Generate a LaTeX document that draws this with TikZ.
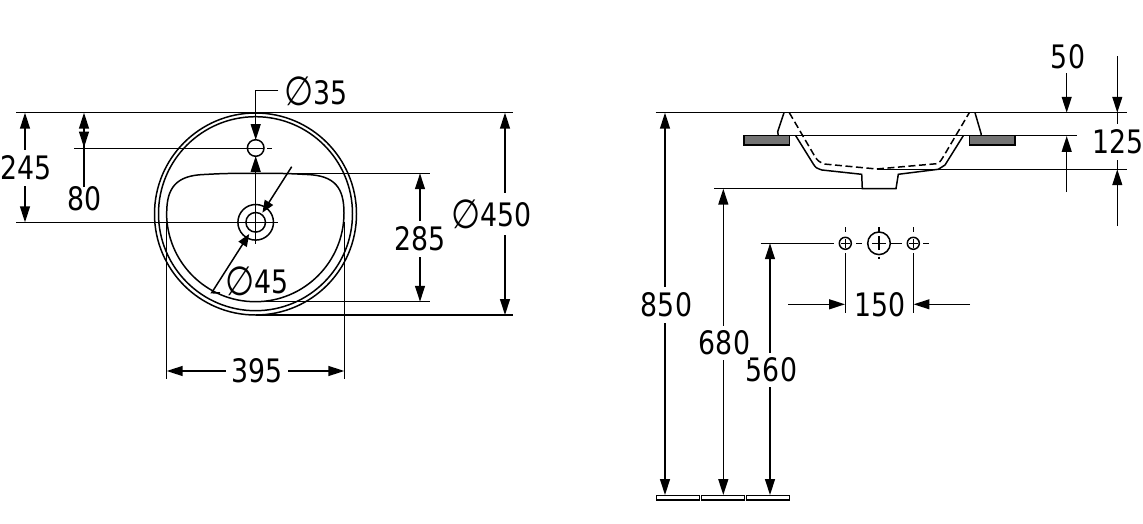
\documentclass[tikz,border=0pt]{standalone}
\usepackage{fontspec}
\setmainfont[FakeStretch=0.92]{DejaVu Sans Condensed}
\usetikzlibrary{arrows.meta}
\newcommand{\dia}{\raisebox{-0.7pt}{\scalebox{1.25}{∅}}}
\tikzset{
  dimtext/.style={font=\fontsize{18.4}{20}\selectfont,inner sep=0pt},
  dimlabel/.style={dimtext,fill=white,inner xsep=3pt,inner ysep=3.5pt},
  shortarrow/.style={>={Triangle[length=7pt,width=5.5pt]}}
}
\begin{document}
\begin{tikzpicture}[>={Triangle[length=9pt,width=5.6pt]},x=0.02cm,y=-0.02cm,line width=0.85pt]
\useasboundingbox (0,0) rectangle (1143,524);
% top view
\draw (255.5,214) circle[radius=101];
\draw (255.5,213.7) circle[radius=97];
\draw (166.7,213) .. controls (166.7,188) and (176,175.5) .. (204,174.5)
  .. controls (225,173.4) .. (255.5,173.3) .. controls (286,173.4) .. (307,174.5)
  .. controls (335,175.5) and (344,188) .. (344,213)
  arc[start angle=0,end angle=180,radius=88.7];
\draw (255.7,222.3) circle[radius=17.8];
\draw (255.7,222.3) circle[radius=9.8];
\draw (255.7,148) circle[radius=8.3];
\draw (16,112.7) -- (513,112.7);
\draw (255.5,315) -- (513,315);
\draw (255.5,173.3) -- (430,173.3);
\draw (255.5,301.7) -- (430,301.7);
\draw (16,222.3) -- (278,222.3);
\draw (74,148.3) -- (263,148.3);
\draw (267.3,148.3) -- (272,148.3);
\draw (255.7,222.3) -- (255.7,244);
\draw (166.7,222) -- (166.7,379);
\draw (344.3,222) -- (344.3,379);
% top view dimensions
\draw[->] (278.3,90.7) -- (255.7,90.7) -- (255.7,140);
\draw[->] (255.7,222.3) -- (255.7,156);
\draw[->,shortarrow] (291.7,166.7) -- (262.4,212.7);
\draw[->,shortarrow] (220,293) -- (211.7,292.7) -- (249.2,234);
\draw[<->] (25,112.7) -- (25,222.3);
\draw[->] (84,187) -- (84,112.7);
\draw[->] (84,131) -- (84,147.5);
\draw[<->] (420,173.3) -- (420,301.7);
\draw[<->] (505,112.7) -- (505,315);
\draw[<->] (166.7,371) -- (344.3,371);
\node[dimlabel] (lab245) at (26,168) {245};
\node[dimtext] (lab80) at (84.5,199) {80};
\node[dimlabel] (lab285) at (420.5,239) {285};
\node[dimlabel] (lab450) at (491.5,214) {\dia450};
\node[dimlabel] (lab395) at (257,371) {395};
\node[dimtext] (lab35) at (316,91.7) {\dia35};
\node[dimtext] (lab45) at (257,281) {\dia45};
% side view
\draw (655.7,112.7) -- (1126.7,112.7);
\draw (790,135.7) -- (1076.7,135.7);
\draw (876.7,169.3) -- (1126.7,169.3);
\draw (714,188.7) -- (862.3,188.7);
\draw[fill=black!55] (744,135.7) rectangle (789.3,145);
\draw[fill=black!55] (969.3,135.7) rectangle (1015,145);
\draw (784,112.7) -- (777.7,131.7) -- (778.3,135.7);
\draw (975,112.7) -- (981,133.3) -- (981,135.7);
\draw[dash pattern=on 4pt off 2pt] (789.3,112.7) -- (815,156.7) .. controls (818,161) .. (824,164) -- (876.7,169)
  -- (936.7,163.7) .. controls (940,162) .. (943.3,156.7) -- (969.3,112.7);
\draw (795.7,135.7) -- (813.3,164) .. controls (816,168) .. (822,170) -- (861.7,174.3)
  -- (862.3,188.7) -- (896,188.7) -- (898.3,174.3) -- (938.3,169.3)
  .. controls (942,168) .. (945,165) -- (963.3,135.7);
% taps
\draw (845.3,243.3) circle[radius=6];
\draw (879,243.3) circle[radius=11.3];
\draw (913.3,243.3) circle[radius=6];
\draw (841,243.3) -- (849.6,243.3) (845.3,239) -- (845.3,247.6);
\draw (909,243.3) -- (917.6,243.3) (913.3,239) -- (913.3,247.6);
\draw (872,243.3) -- (886,243.3) (879,236.3) -- (879,250.3);
\draw (856,243.3) -- (862.3,243.3) (891,243.3) -- (901.7,243.3) (923.3,243.3) -- (929.3,243.3);
\draw (845.3,227) -- (845.3,232) (879,227) -- (879,232) (913.3,227) -- (913.3,232);
\draw (879,256.7) -- (879,259.3);
\draw (845.3,253) -- (845.3,313);
\draw (913.3,253) -- (913.3,313);
\draw (760.7,243.3) -- (834.3,243.3);
% floor
\draw[fill=white] (656.7,495.7) rectangle (699.3,500);
\draw[fill=white] (701.3,495.7) rectangle (744.3,500);
\draw[fill=white] (746.3,495.7) rectangle (789.3,500);
% side view dimensions
\draw[<->] (665,112.7) -- (665,495);
\draw[<->] (723.3,188.7) -- (723.3,495);
\draw[<->] (770,243.3) -- (770,495);
\draw[->] (788.3,304.3) -- (845,304.3);
\draw[->] (970,304.3) -- (913.6,304.3);
\draw[->] (1066.7,73) -- (1066.7,112.7);
\draw[->] (1066.7,192) -- (1066.7,136);
\draw[->] (1117.3,56) -- (1117.3,112.7);
\draw (1117.3,112.7) -- (1117.3,169.3);
\draw[->] (1117.3,226) -- (1117.3,169.3);
\node[dimlabel] (lab850) at (666.5,305) {850};
\node[dimlabel,inner xsep=0pt,inner ysep=2.5pt] (lab560) at (771.5,370) {560};
\node[dimlabel,inner xsep=0pt,inner ysep=2.5pt] (lab680) at (724.5,343) {680};
\node[dimtext] (lab150) at (880,304.5) {150};
\node[dimtext] (lab50) at (1068,57) {50};
\node[dimlabel] (lab125) at (1118,142) {125};
\end{tikzpicture}
\end{document}
